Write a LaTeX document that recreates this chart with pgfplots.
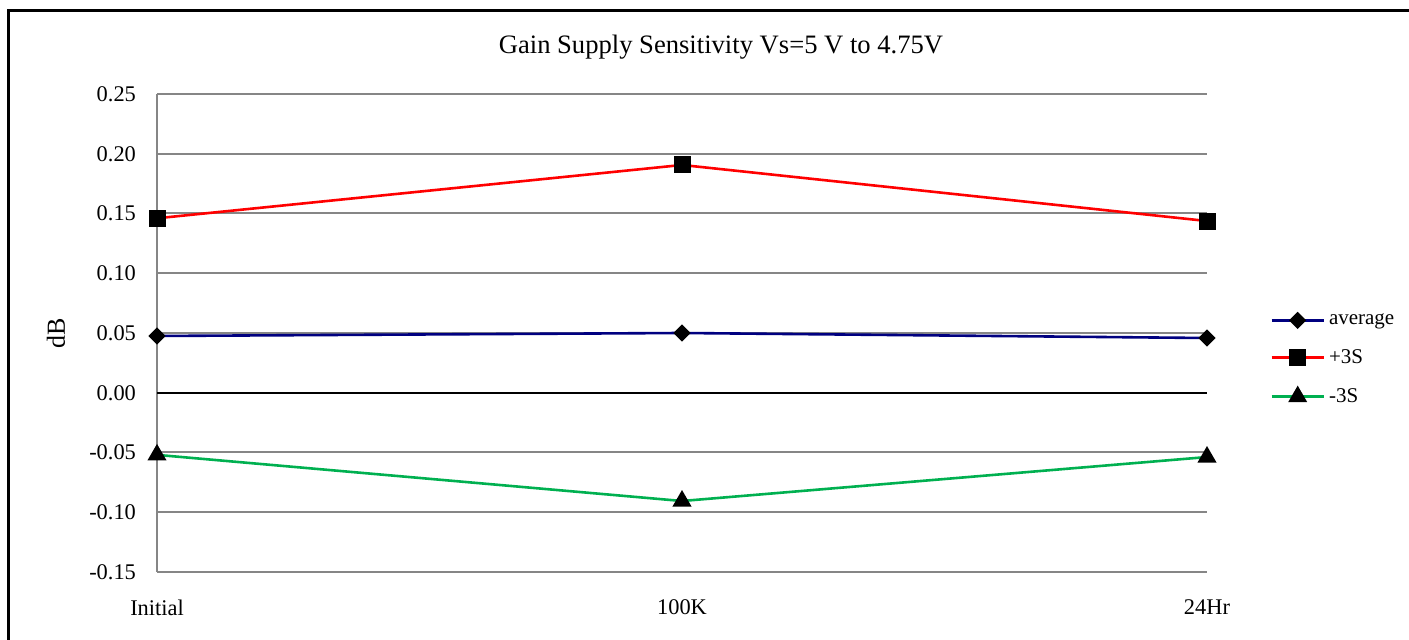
\documentclass[border=0pt]{standalone}
\usepackage{fontspec}
\setmainfont{Liberation Serif}
\usepackage{pgfplots}
\pgfplotsset{compat=1.18}
\definecolor{avgc}{RGB}{0,0,128}
\definecolor{redc}{RGB}{255,0,0}
\definecolor{grnc}{RGB}{0,176,80}
\definecolor{gridc}{RGB}{134,134,134}
\begin{document}
\begin{tikzpicture}
\useasboundingbox (0pt,0pt) rectangle (704.5pt,320pt);
\draw[line width=1.5pt] (4pt,0pt) -- (4pt,314.5pt) -- (704.5pt,314.5pt);
\node[font=\fontsize{13.3}{15}\selectfont] at (360.5pt,296.5pt) {Gain Supply Sensitivity Vs=5 V to 4.75V};
\node[rotate=90,font=\fontsize{13}{15}\selectfont] at (28pt,153.5pt) {dB};
\begin{axis}[
  at={(78.5pt,34pt)}, anchor=south west,
  scale only axis, width=525pt, height=239pt,
  xmin=0, xmax=2, ymin=-0.15, ymax=0.25,
  xtick={0,1,2}, xticklabels={Initial,100K,24Hr},
  ytick={-0.15,-0.10,...,0.26},
  axis x line*=bottom, axis y line*=left,
  axis line style={gridc, line width=1pt, -},
  major tick length=0pt,
  ymajorgrids, grid style={gridc, line width=1pt},
  tick label style={font=\fontsize{11.2}{13}\selectfont},
  yticklabel style={xshift=-7pt},
  xticklabel style={yshift=-10.5pt},
  /pgf/number format/.cd, fixed, zerofill, precision=2, assume math mode=true,
  /pgfplots/.cd,
  clip=false,
  legend style={at={(1.06,0.55)}, anchor=north west, draw=none, fill=none,
    font=\fontsize{10.5}{12}\selectfont, row sep=7pt, inner sep=0pt},
  legend cell align=left,
  legend image code/.code={\draw[mark repeat=2,mark phase=2,#1] plot coordinates {(0pt,0pt) (13pt,0pt) (26pt,0pt)};},
]
\draw[black, line width=1pt] (axis cs:0,0) -- (axis cs:2,0);
\addplot[avgc, line width=1.3pt, mark=square*, mark size=2.4pt, mark options={black, fill=black, rotate=45}]
  coordinates {(0,0.0475) (1,0.0500) (2,0.0458)};
\addlegendentry{average}
\addplot[redc, line width=1.3pt, mark=square*, mark size=3.6pt, mark options={black, fill=black}]
  coordinates {(0,0.1460) (1,0.1906) (2,0.1437)};
\addlegendentry{+3S}
\addplot[grnc, line width=1.3pt, mark=triangle*, mark size=4.2pt, mark options={black, fill=black}]
  coordinates {(0,-0.0520) (1,-0.0906) (2,-0.0538)};
\addlegendentry{-3S}
\end{axis}
\end{tikzpicture}
\end{document}
